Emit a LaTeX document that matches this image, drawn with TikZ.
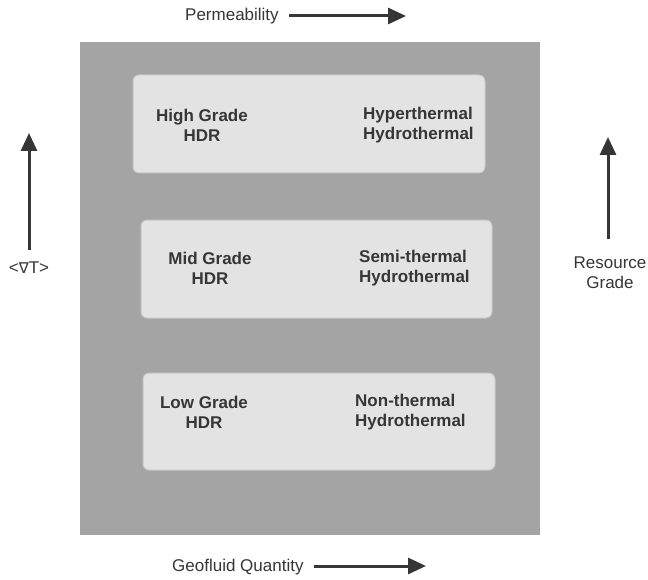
\documentclass[tikz,border=0pt]{standalone}
\usepackage{fontspec}
\setmainfont{Liberation Sans}
\newfontfamily\symfont{DejaVu Sans}
\usetikzlibrary{arrows.meta}
\definecolor{panelgray}{HTML}{A4A4A4}
\definecolor{boxfill}{HTML}{E3E3E3}
\definecolor{boxline}{HTML}{C6C6C6}
\definecolor{inkgray}{HTML}{363636}
\begin{document}
\begin{tikzpicture}[x=1bp,y=-1bp,
  txt/.style={font=\fontsize{17bp}{20bp}\selectfont, text=inkgray, inner sep=0pt},
  boldtxt/.style={txt, font=\fontsize{17bp}{20bp}\selectfont\bfseries},
  gradebox/.style={draw=boxline, line width=1bp, fill=boxfill, rounded corners=6bp},
  axisarrow/.style={draw=inkgray, line width=3bp, -{Triangle[length=18bp,width=16bp]}}]
\useasboundingbox (0,0) rectangle (648,580);
\fill[white] (0,0) rectangle (648,580);

% backdrop panel
\fill[panelgray] (80,42) rectangle (540,535);

% the three resource classes
\draw[gradebox] (133,75) rectangle (485,173);
\draw[gradebox] (141,220) rectangle (492,318);
\draw[gradebox] (143,373) rectangle (495,470);

\node[boldtxt, align=center] (hg) at (202,125) {High Grade\\HDR};
\node[boldtxt, align=left, anchor=west] (hh) at (363,125) {Hyperthermal\\Hydrothermal};
\node[boldtxt, align=center] (mg) at (210,268) {Mid Grade\\HDR};
\node[boldtxt, align=left, anchor=west] (sh) at (359,268) {Semi-thermal\\Hydrothermal};
\node[boldtxt, align=center] (lg) at (204,412) {Low Grade\\HDR};
\node[boldtxt, align=left, anchor=west] (nh) at (355,412) {Non-thermal\\Hydrothermal};

% axis labels and arrows
\node[txt, anchor=west] (perm) at (185,16) {Permeability};
\coordinate (permend) at (406,16);
\path (perm.east) ++(10,0) coordinate (permstart);
\draw[axisarrow] (permstart) -- (permend);

\node[txt, anchor=west] (geo) at (172,567) {Geofluid Quantity};
\coordinate (geoend) at (426,566);
\path (geo.east) ++(10,-1) coordinate (geostart);
\draw[axisarrow] (geostart) -- (geoend);

\node[txt] (grad) at (29,268) {<{\symfont\fontsize{15bp}{18bp}\selectfont ∇}T>};
\coordinate (gradtop) at (29,133);
\path (grad.north) ++(0,-12) coordinate (gradstart);
\draw[axisarrow] (gradstart) -- (gradtop);

\node[txt, align=center] (rg) at (610,273) {Resource\\Grade};
\coordinate (rgtop) at (608,137);
\coordinate (rgstart) at (608,239);
\draw[axisarrow] (rgstart) -- (rgtop);
\end{tikzpicture}
\end{document}
